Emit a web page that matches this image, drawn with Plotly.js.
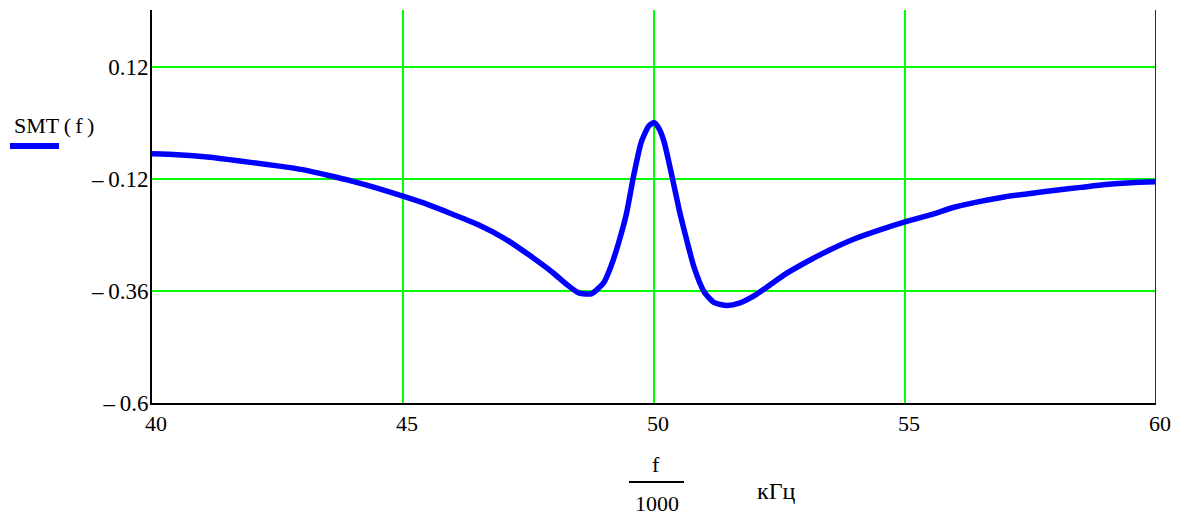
<!DOCTYPE html>
<html>
<head>
<meta charset="utf-8">
<script src="https://cdn.plot.ly/plotly-3.0.1.min.js"></script>
<style>
  html, body { margin: 0; padding: 0; background: #fff; }
  #chart { width: 1183px; height: 522px; }
</style>
</head>
<body>
<div id="chart"></div>
<script>
// Frequency in kHz (f / 1000)
const freqKHz = [40, 40.5, 41, 41.5, 42, 42.5, 43, 43.5, 44, 44.5, 45, 45.5, 46, 46.5, 47, 47.5,
  48, 48.25, 48.5, 48.75, 49, 49.15, 49.3, 49.45, 49.6, 49.75, 49.9, 50, 50.1, 50.2, 50.35,
  50.5, 50.65, 50.8, 51, 51.2, 51.45, 51.7, 52, 52.3, 52.6, 53, 53.5, 54, 54.5, 55, 55.5,
  56, 56.5, 57, 57.5, 58, 58.5, 59, 59.5, 60];

// SMT(f)
const smt = [-0.066, -0.068, -0.072, -0.078, -0.085, -0.092, -0.100, -0.112, -0.125, -0.140,
  -0.157, -0.175, -0.196, -0.218, -0.246, -0.282, -0.322, -0.345, -0.364, -0.366, -0.342,
  -0.305, -0.255, -0.195, -0.110, -0.040, -0.006, 0.001, -0.012, -0.040, -0.110, -0.185,
  -0.250, -0.310, -0.362, -0.385, -0.391, -0.386, -0.370, -0.348, -0.325, -0.300, -0.272,
  -0.248, -0.229, -0.212, -0.197, -0.180, -0.168, -0.158, -0.151, -0.144, -0.138, -0.132,
  -0.128, -0.126];

const xTicks = [40, 45, 50, 55, 60];
const yTicks = [0.12, -0.12, -0.36, -0.6];
const yTickText = ['0.12', '\u2013\u20090.12', '\u2013\u20090.36', '\u2013\u20090.6'];

const serif = '"Liberation Serif", "Times New Roman", "DejaVu Serif", serif';

// plot area in pixels, used to place the legend and axis caption
const L = 152, R = 1156, T = 10, B = 403;
const px = v => (v - L) / (R - L);
const py = v => (B - v) / (B - T);

const trace = {
  x: freqKHz,
  y: smt,
  type: 'scatter',
  mode: 'lines',
  line: { color: '#0000ff', width: 5.5, shape: 'spline', smoothing: 0.6 },
  hoverinfo: 'skip'
};

const layout = {
  width: 1183,
  height: 522,
  margin: { l: L, r: 1183 - R, t: T, b: 522 - B },
  paper_bgcolor: '#ffffff',
  plot_bgcolor: '#ffffff',
  showlegend: false,
  font: { family: serif, size: 22, color: '#000' },
  xaxis: {
    range: [40, 60],
    tickvals: xTicks,
    ticktext: xTicks.map(String),
    showgrid: true,
    gridcolor: '#00ff00',
    gridwidth: 2,
    zeroline: false,
    showline: true,
    linecolor: '#000',
    linewidth: 2,
    ticks: '',
    ticklabelshift: 4,
    tickfont: { family: serif, size: 22, color: '#000' }
  },
  yaxis: {
    range: [-0.6, 0.242],
    tickvals: yTicks,
    ticktext: yTickText,
    showgrid: true,
    gridcolor: '#00ff00',
    gridwidth: 2,
    zeroline: false,
    showline: true,
    linecolor: '#000',
    linewidth: 2,
    ticks: '',
    ticklabelstandoff: -3,
    tickfont: { family: serif, size: 23, color: '#000' }
  },
  shapes: [
    // right frame edge
    { type: 'line', xref: 'x', yref: 'paper', x0: 60, x1: 60, y0: 0, y1: 1,
      line: { color: '#1a3a1a', width: 2 } },
    // legend line sample
    { type: 'line', xref: 'paper', yref: 'paper', x0: px(10), x1: px(59), y0: py(146), y1: py(146),
      line: { color: '#0000ff', width: 6 } },
    // fraction bar of the axis caption
    { type: 'line', xref: 'paper', yref: 'paper', x0: px(629), x1: px(684), y0: py(482), y1: py(482),
      line: { color: '#000', width: 2 } }
  ],
  annotations: [
    { xref: 'paper', yref: 'paper', x: px(12), y: py(125), xanchor: 'left', yanchor: 'middle',
      text: 'SMT\u2009(\u2009f\u2009)', showarrow: false, font: { family: serif, size: 22, color: '#000' } },
    { xref: 'paper', yref: 'paper', x: px(656), y: py(464), xanchor: 'center', yanchor: 'middle',
      text: 'f', showarrow: false, font: { family: serif, size: 22, color: '#000' } },
    { xref: 'paper', yref: 'paper', x: px(657), y: py(503), xanchor: 'center', yanchor: 'middle',
      text: '1000', showarrow: false, font: { family: serif, size: 22, color: '#000' } },
    { xref: 'paper', yref: 'paper', x: px(776), y: py(491), xanchor: 'center', yanchor: 'middle',
      text: 'кГц', showarrow: false, font: { family: serif, size: 24, color: '#000' } }
  ]
};

Plotly.newPlot('chart', [trace], layout, { displayModeBar: false, staticPlot: true });
</script>
</body>
</html>
